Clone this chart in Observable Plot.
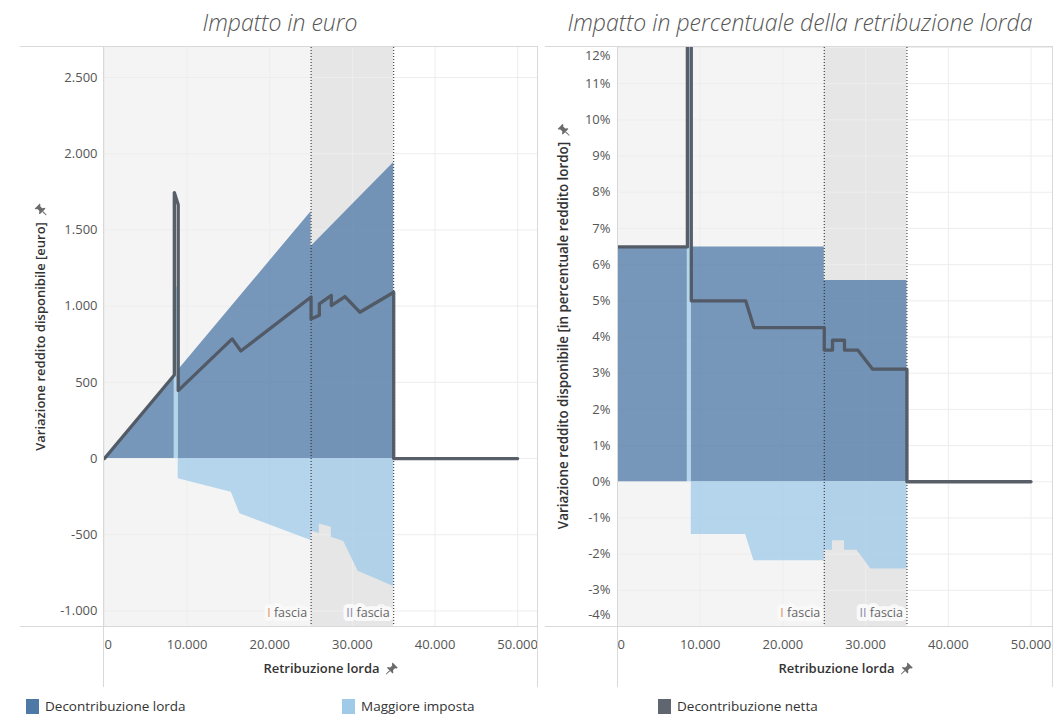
<!DOCTYPE html>
<html>
<head>
<meta charset="utf-8">
<script src="https://cdn.jsdelivr.net/npm/d3@7"></script>
<script src="https://cdn.jsdelivr.net/npm/@observablehq/plot@0.6"></script>
<style>
  body { margin: 0; background: #fff; font-family: "Open Sans", "Noto Sans", sans-serif; }
  #root { position: relative; width: 1061px; height: 724px; overflow: hidden; background: #fff; }
  .title { position: absolute; top: 6px; font-style: italic; font-weight: 300; font-size: 23px; color: #555; white-space: nowrap; transform: translateX(-50%); }
  .hline { position: absolute; height: 1px; background: #d9d9d9; }
  .vline { position: absolute; width: 1px; background: #d9d9d9; }
  .plot { position: absolute; }
  .axtitle { position: absolute; white-space: nowrap; font-size: 13px; font-weight: 600; color: #333; display: flex; align-items: center; gap: 6px; }
  .ytitle { transform: translate(-50%, -50%) rotate(-90deg); }
  .ytitle.lungo { font-size: 13.4px; }
  .xtitle { transform: translate(-50%, -50%); }
  .legend { position: absolute; top: 697px; display: flex; align-items: center; font-size: 13.5px; color: #333; }
  .legend span.sw { display: inline-block; width: 13px; height: 15px; margin-right: 6px; }
</style>
</head>
<body>
<div id="root"></div>
<script>
// ---------------- DATA ----------------
const titoli = ["Impatto in euro", "Impatto in percentuale della retribuzione lorda"];
const titoliAsseY = ["Variazione reddito disponibile [euro]", "Variazione reddito disponibile [in percentuale reddito lordo]"];
const titoloAsseX = "Retribuzione lorda";
const serieNomi = ["Decontribuzione lorda", "Maggiore imposta", "Decontribuzione netta"];
const serieColori = ["#4e79a7", "#a0cbe8", "#4f5661"];

const fasciaNomi = ["I fascia", "II fascia"];
const fasciaInizio = [0, 25000];
const fasciaFine = [25000, 35000];
const fasciaSfondo = ["#f4f4f4", "#e6e6e6"];

const retribuzioneTicks = [0, 10000, 20000, 30000, 40000, 50000];
const euroTicks = [-1000, -500, 0, 500, 1000, 1500, 2000, 2500];
const percTicks = [-4, -3, -2, -1, 0, 1, 2, 3, 4, 5, 6, 7, 8, 9, 10, 11, 12];

// [retribuzione lorda, valore] — impatto in euro
const lordaEuro = [[0, 0], [8450, 548], [8450, 0], [8920, 0], [8920, 579], [25000, 1620], [25000, 1392], [35000, 1942], [35000, 0]];
const impostaEuro = [[0, 0], [8450, 0], [8450, 1124], [8920, 1124], [8920, -133], [15350, -221], [16400, -363], [25000, -538],
  [25000, -475], [26000, -492], [26000, -430], [27450, -450], [27450, -516], [28950, -545], [30700, -739], [35000, -840], [35000, 0]];
const nettaEuro = [[0, 0], [8450, 548], [8450, 1745], [8920, 1665], [8920, 446], [15450, 785], [16500, 706], [25000, 1060],
  [25000, 915], [26000, 940], [26000, 1015], [27450, 1070], [27450, 1004], [29100, 1063], [30900, 960], [35000, 1091], [35000, 0], [50000, 0]];

// [retribuzione lorda, valore %] — impatto in percentuale
const lordaPerc = [[0, 6.49], [8450, 6.49], [8450, 0], [8920, 0], [8920, 6.49], [25000, 6.49], [25000, 5.56], [35000, 5.56], [35000, 0]];
const impostaPerc = [[0, 0], [8450, 0], [8450, 13.0], [8920, 13.0], [8920, -1.46], [15500, -1.46], [16500, -2.18], [25000, -2.18],
  [25000, -1.89], [26000, -1.89], [26000, -1.63], [27450, -1.63], [27450, -1.89], [28950, -1.89], [30650, -2.41], [35000, -2.41], [35000, 0]];
const nettaPerc = [[0, 6.49], [8450, 6.49], [8450, 20.6], [8920, 18.7], [8920, 5.0], [15500, 5.0], [16500, 4.26], [25000, 4.26],
  [25000, 3.64], [26000, 3.64], [26000, 3.91], [27450, 3.91], [27450, 3.64], [29050, 3.64], [30850, 3.11], [35000, 3.11], [35000, 0], [50000, 0]];

// ---------------- HELPERS ----------------
const itLocale = d3.formatLocale({decimal: ",", thousands: ".", grouping: [3], currency: ["€", ""], minus: "-"});
const fmtNum = itLocale.format(",d");
const fmtPerc = d => fmtNum(d) + "%";
const fasce = fasciaNomi.map((n, i) => ({nome: n, inizio: fasciaInizio[i], fine: fasciaFine[i], sfondo: fasciaSfondo[i]}));
const pinSvg = `<svg width="13" height="13" viewBox="0 0 13 13"><g fill="#6b6b6b"><path d="M7.2 0.6 L12.4 5.8 L11.3 6.4 L9.6 6.2 L7.6 8.2 L8 10.6 L7.2 11.4 L1.6 5.8 L2.4 5 L4.8 5.4 L6.8 3.4 L6.6 1.7 Z"/><path d="M4 8.2 L4.8 9 L1 12.6 L0.4 12 Z"/></g></svg>`;

const root = document.getElementById("root");

function pannello({left, width, marginLeft, marginRight, xMax, yDomain, yTicks, yFormat, lorda, imposta, netta}) {
  const svg = Plot.plot({
    width, height: 650,
    marginLeft, marginRight, marginTop: 7, marginBottom: 64,
    style: {fontFamily: '"Open Sans", sans-serif', fontSize: "13px", color: "#555", background: "transparent", overflow: "visible"},
    x: {domain: [0, xMax], label: null},
    y: {domain: yDomain, label: null},
    color: {type: "identity"},
    marks: [
      Plot.rect(fasce, {x1: "inizio", x2: "fine", fill: "sfondo"}),
      Plot.gridY(yTicks, {stroke: "#ededed", strokeOpacity: 1}),
      Plot.gridX(retribuzioneTicks, {stroke: "#ededed", strokeOpacity: 1}),
      Plot.areaY(lorda, {x: d => d[0], y1: 0, y2: d => d[1], fill: serieColori[0], fillOpacity: 0.76, clip: true}),
      Plot.areaY(imposta, {x: d => d[0], y1: 0, y2: d => d[1], fill: serieColori[1], fillOpacity: 0.76, clip: true}),
      Plot.ruleX(fasce, {x: "fine", stroke: "#222", strokeWidth: 1, strokeDasharray: "1,2"}),
      Plot.line(netta, {x: d => d[0], y: d => d[1], stroke: serieColori[2], strokeWidth: 3.3, strokeOpacity: 0.95, clip: true}),
      Plot.text(fasce, {x: "fine", frameAnchor: "bottom", text: "nome", textAnchor: "end", dx: -4, dy: -10,
        fill: "#666", stroke: "#f9f9f9", strokeWidth: 8, fontSize: 12.5}),
      Plot.axisY(yTicks, {tickSize: 0, tickPadding: 7, tickFormat: yFormat, fontSize: 13, fill: "#555", label: null}),
      Plot.axisX(retribuzioneTicks, {tickSize: 0, tickPadding: 13, tickFormat: fmtNum, fontSize: 13, fill: "#555", label: null})
    ]
  });
  const sel = d3.select(svg);
  // colour the roman numeral of the band labels
  sel.selectAll("text").each(function() {
    const t = this.textContent;
    const m = /^(I{1,2}) (fascia)$/.exec(t);
    if (m && this.childNodes.length === 1) {
      const el = d3.select(this);
      el.text(null);
      el.append("tspan").attr("fill", m[1] === "I" ? "#e0965a" : "#8e8aa8").text(m[1]);
      el.append("tspan").text(" " + m[2]);
    }
  });
  // keep edge tick labels inside the pane, as the reference does
  sel.selectAll('g[aria-label="x-axis tick label"] text').each(function() {
    if (this.textContent === "0") this.setAttribute("text-anchor", "start");
  });
  const yLabels = sel.selectAll('g[aria-label="y-axis tick label"] text').nodes();
  yLabels.forEach(n => {
    const v = n.textContent;
    if (v === "12%") n.setAttribute("transform", n.getAttribute("transform") + " translate(0,8)");
    if (v === "-4%") n.setAttribute("transform", n.getAttribute("transform") + " translate(0,-12)");
  });
  svg.classList.add("plot");
  svg.style.left = left + "px";
  svg.style.top = "40px";
  root.appendChild(svg);
}

// frame lines
function hline(x, y, w) { const d = document.createElement("div"); d.className = "hline"; Object.assign(d.style, {left: x + "px", top: y + "px", width: w + "px"}); root.appendChild(d); }
function vline(x, y, h) { const d = document.createElement("div"); d.className = "vline"; Object.assign(d.style, {left: x + "px", top: y + "px", height: h + "px"}); root.appendChild(d); }

pannello({left: 0, width: 540, marginLeft: 104, marginRight: 3, xMax: 52400,
  yDomain: [-1102, 2697], yTicks: euroTicks, yFormat: fmtNum, lorda: lordaEuro, imposta: impostaEuro, netta: nettaEuro});
pannello({left: 540, width: 521, marginLeft: 77, marginRight: 9, xMax: 52600,
  yDomain: [-4.0, 12.0], yTicks: percTicks, yFormat: fmtPerc, lorda: lordaPerc, imposta: impostaPerc, netta: nettaPerc});

hline(20, 46, 518); hline(20, 626, 518);
hline(545, 46, 508); hline(545, 626, 508);
vline(103, 46, 641); vline(537, 46, 641);
vline(617, 46, 641); vline(1052, 46, 641);

// titles
[[280, titoli[0]], [800, titoli[1]]].forEach(([cx, t]) => {
  const d = document.createElement("div"); d.className = "title"; d.style.left = cx + "px"; d.textContent = t; root.appendChild(d);
});
// y axis titles
[[40, 327, titoliAsseY[0], ""], [563, 326, titoliAsseY[1], " lungo"]].forEach(([cx, cy, t, extra]) => {
  const d = document.createElement("div"); d.className = "axtitle ytitle" + extra;
  d.style.left = cx + "px"; d.style.top = cy + "px";
  d.innerHTML = `<span></span>${pinSvg}`; d.firstChild.textContent = t; root.appendChild(d);
});
// x axis titles
[[331, 668], [846, 668]].forEach(([cx, cy]) => {
  const d = document.createElement("div"); d.className = "axtitle xtitle";
  d.style.left = cx + "px"; d.style.top = cy + "px";
  d.innerHTML = `<span></span>${pinSvg}`; d.firstChild.textContent = titoloAsseX; root.appendChild(d);
});
// legend
[26, 342, 658].forEach((x, i) => {
  const d = document.createElement("div"); d.className = "legend"; d.style.left = x + "px";
  d.innerHTML = `<span class="sw" style="background:${i === 2 ? "#5f6670" : serieColori[i]}"></span><span></span>`;
  d.lastChild.textContent = serieNomi[i]; root.appendChild(d);
});
</script>
</body>
</html>
